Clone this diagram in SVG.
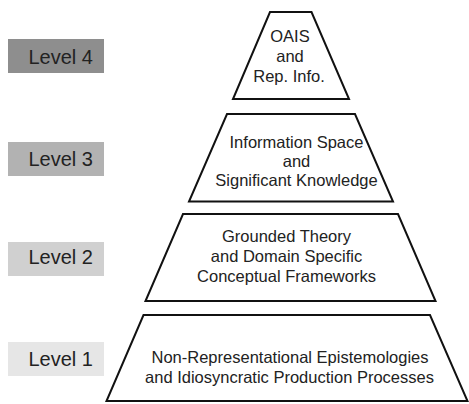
<svg xmlns="http://www.w3.org/2000/svg" width="469" height="404" viewBox="0 0 469 404">
<style>
.lvl{font-family:"Liberation Sans",Arial,sans-serif;font-size:20px;fill:#222;text-anchor:end}
.tz{fill:#fff;stroke:#111;stroke-width:2;stroke-linejoin:miter}
.t{font-family:"Liberation Sans",Arial,sans-serif;font-size:16.5px;fill:#222;text-anchor:middle}
</style>
<rect width="469" height="404" fill="#fff"/>
<g id="level4"><rect x="8" y="39" width="96" height="34" fill="#8e8e8e"/><text class="lvl" x="93" y="64">Level 4</text></g>
<g id="level3"><rect x="8" y="142" width="96" height="34" fill="#b2b2b2"/><text class="lvl" x="93" y="166">Level 3</text></g>
<g id="level2"><rect x="8" y="242" width="96" height="34" fill="#d0d0d0"/><text class="lvl" x="93" y="264">Level 2</text></g>
<g id="level1"><rect x="8" y="342" width="96" height="34" fill="#e6e6e6"/><text class="lvl" x="93" y="366">Level 1</text></g>
<g id="tier4"><polygon class="tz" points="270,12 311.5,12 349,99 233,99"/>
<text class="t" x="290" y="42">OAIS</text><text class="t" x="290" y="62">and</text><text class="t" x="289" y="82">Rep. Info.</text></g>
<g id="tier3"><polygon class="tz" points="227,114 355,114 393,201.5 189,201.5"/>
<text class="t" x="296.5" y="148">Information Space</text><text class="t" x="296.5" y="167">and</text><text class="t" x="296.5" y="186">Significant Knowledge</text></g>
<g id="tier2"><polygon class="tz" points="183,214 398,214 435.5,301 145.5,301"/>
<text class="t" x="286.5" y="242">Grounded Theory</text><text class="t" x="286.5" y="262">and Domain Specific</text><text class="t" x="286.5" y="282">Conceptual Frameworks</text></g>
<g id="tier1"><polygon class="tz" points="143.5,315 430,315 467.5,401 106.5,401"/>
<text class="t" x="290" y="363">Non-Representational Epistemologies</text><text class="t" x="289.5" y="383">and Idiosyncratic Production Processes</text></g>
<g id="connectors"/>
</svg>
